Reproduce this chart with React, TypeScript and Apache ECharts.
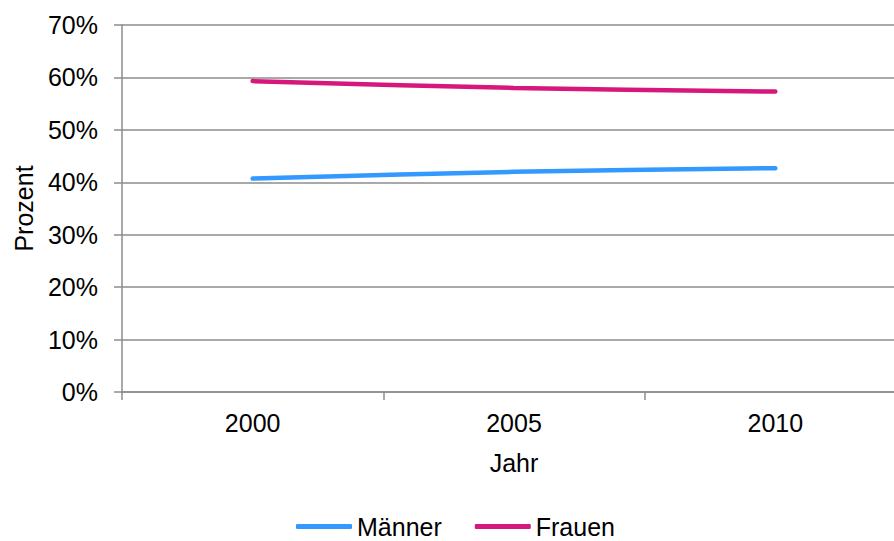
import React, { useEffect, useRef } from 'react';
import * as echarts from 'echarts';

const years = ['2000', '2005', '2010'];
const maenner = [40.7, 42.0, 42.7];
const frauen = [59.3, 58.0, 57.3];
const seriesNames = ['Männer', 'Frauen'];

const FONT = 'Liberation Sans, Arial, sans-serif';

const App: React.FC = () => {
  const chartRef = useRef<HTMLDivElement>(null);

  useEffect(() => {
    if (!chartRef.current) return;
    const myChart = echarts.init(chartRef.current, undefined, { renderer: 'svg' });
    const axisGray = '#8c8c8c';
    const option = {
      animation: false,
      textStyle: { fontFamily: FONT, color: '#000' },
      // plot area runs past the right edge of the picture
      grid: { left: 122, top: 25, width: 784, height: 367, outerBoundsMode: 'none', containLabel: false },
      legend: {
        left: 291,
        top: 509,
        icon: 'roundRect',
        itemWidth: 56,
        itemHeight: 5,
        itemGap: 33,
        textStyle: { fontFamily: FONT, fontSize: 25, color: '#000' },
        data: seriesNames,
      },
      xAxis: {
        type: 'category',
        data: years,
        boundaryGap: true,
        name: 'Jahr',
        nameLocation: 'middle',
        nameGap: 58,
        nameTextStyle: { fontFamily: FONT, fontSize: 25, color: '#000' },
        axisLine: { lineStyle: { color: axisGray, width: 1.5 } },
        axisTick: { show: true, length: 8, lineStyle: { color: axisGray, width: 1.5 } },
        axisLabel: { margin: 18, fontFamily: FONT, fontSize: 25, color: '#000' },
        splitLine: { show: false },
      },
      yAxis: {
        type: 'value',
        min: 0,
        max: 70,
        interval: 10,
        name: 'Prozent',
        nameLocation: 'middle',
        nameRotate: 90,
        nameGap: 86,
        nameTextStyle: { fontFamily: FONT, fontSize: 25, color: '#000' },
        axisLine: { show: true, lineStyle: { color: axisGray, width: 1.5 } },
        axisTick: { show: true, length: 8, lineStyle: { color: axisGray, width: 1.5 } },
        axisLabel: { margin: 24, formatter: '{value}%', fontFamily: FONT, fontSize: 25, color: '#000' },
        splitLine: { show: true, lineStyle: { color: axisGray, width: 1.5 } },
      },
      series: [
        {
          name: seriesNames[0],
          type: 'line',
          data: maenner,
          smooth: 0.3,
          symbol: 'none',
          color: '#3399ff',
          lineStyle: { width: 4.5, color: '#3399ff', cap: 'round' },
        },
        {
          name: seriesNames[1],
          type: 'line',
          data: frauen,
          smooth: 0.3,
          symbol: 'none',
          color: '#d6177b',
          lineStyle: { width: 4.5, color: '#d6177b', cap: 'round' },
        },
      ],
    };
    myChart.setOption(option);
    return () => { myChart.dispose(); };
  }, []);

  return (
    <div
      ref={chartRef}
      style={{ position: 'fixed', left: 0, top: 0, width: 894, height: 541, background: '#fff' }}
    />
  );
};

export default App;
